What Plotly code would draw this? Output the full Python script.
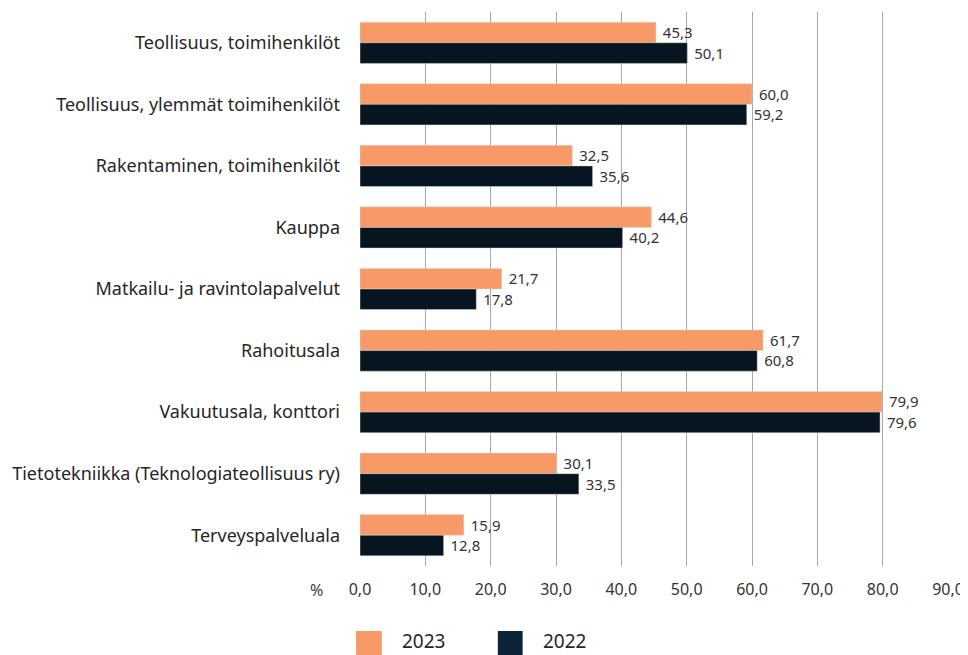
import plotly.graph_objects as go

categories = [
    "Teollisuus, toimihenkilöt",
    "Teollisuus, ylemmät toimihenkilöt",
    "Rakentaminen, toimihenkilöt",
    "Kauppa",
    "Matkailu- ja ravintolapalvelut",
    "Rahoitusala",
    "Vakuutusala, konttori",
    "Tietotekniikka (Teknologiateollisuus ry)",
    "Terveyspalveluala",
]
values_2023 = [45.3, 60.0, 32.5, 44.6, 21.7, 61.7, 79.9, 30.1, 15.9]
values_2022 = [50.1, 59.2, 35.6, 40.2, 17.8, 60.8, 79.6, 33.5, 12.8]
series_names = ["2023", "2022"]
x_ticks = [0, 10, 20, 30, 40, 50, 60, 70, 80, 90]

C_ORANGE = "#F79A67"
C_DARK = "#06151F"
C_LEG_DARK = "#0B2438"
FONT = "Noto Sans"

def fmt(v):
    return f"{v:.1f}".replace(".", ",")

# page body has an 8px margin, so the figure is 8px smaller and offset
OFF = 8
W, H = 968 - OFF, 655 - OFF
pl, pr, pt, pb = 359 - OFF, 16, 12 - OFF, 89
pw, ph = W - pl - pr, H - pt - pb

fig = go.Figure()
for name, vals, col in [(series_names[0], values_2023, C_ORANGE), (series_names[1], values_2022, C_DARK)]:
    fig.add_trace(go.Bar(
        y=categories, x=vals, name=name, orientation="h",
        marker=dict(color=col, line=dict(color="rgba(220,220,220,0.8)", width=0.6)),
        text=[" " + fmt(v) for v in vals], textposition="outside",
        textfont=dict(family=FONT, size=16, color="#333333"),
        cliponaxis=False, showlegend=False,
    ))

fig.update_layout(
    width=W, height=H,
    margin=dict(l=pl, r=pr, t=pt, b=pb),
    paper_bgcolor="white", plot_bgcolor="white",
    barmode="group", bargap=0.33, bargroupgap=0,
    separators=", ",
    font=dict(family=FONT, color="#333333"),
    xaxis=dict(
        range=[0, 90], tickvals=x_ticks, tickformat=".1f",
        showgrid=True, gridcolor="#A6A6A6", gridwidth=1,
        zeroline=False, showline=False,
        tickfont=dict(family=FONT, size=16, color="#333333"),
        ticks="", ticklabelstandoff=12,
    ),
    yaxis=dict(
        autorange="reversed", showgrid=False, showline=False,
        ticks="", ticklabelstandoff=19,
        tickfont=dict(family=FONT, size=18, color="#262626"),
    ),
)

def px(x):
    return (x - OFF - pl) / pw
def py(y):
    return (H - pb - (y - OFF)) / ph

fig.add_annotation(xref="paper", yref="paper", x=px(315), y=py(590), text="%",
                   showarrow=False, xanchor="center", yanchor="middle",
                   font=dict(family=FONT, size=16, color="#404040"))

# custom legend
leg = [(355, 381, C_ORANGE, "2023", 399), (498, 523, C_LEG_DARK, "2022", 542)]
for x0, x1, col, lab, tx in leg:
    fig.add_shape(type="rect", xref="paper", yref="paper",
                  x0=px(x0), x1=px(x1), y0=py(655), y1=py(631),
                  fillcolor=col, line=dict(width=0))
    fig.add_annotation(xref="paper", yref="paper", x=px(tx), y=py(641), text=lab,
                       showarrow=False, xanchor="left", yanchor="middle",
                       font=dict(family=FONT, size=19, color="#262626"))

fig.write_html("out.html")
